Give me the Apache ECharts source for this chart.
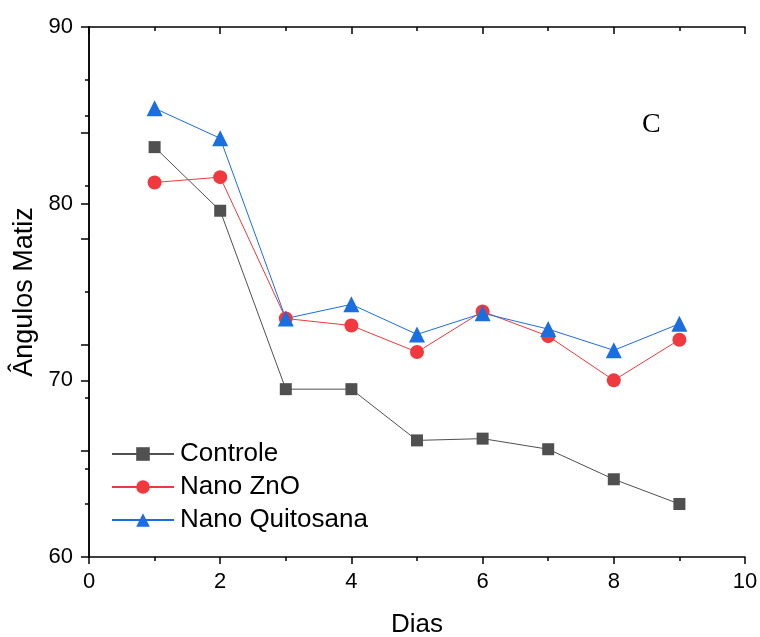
<!DOCTYPE html>
<html>
<head>
<meta charset="utf-8">
<script src="https://cdn.jsdelivr.net/npm/echarts@6/dist/echarts.min.js"></script>
<style>
  html, body { margin: 0; padding: 0; background: #fff; }
  #chart { width: 760px; height: 637px; }
</style>
</head>
<body>
<div id="chart"></div>
<script>
// Storage days
const days = [1, 2, 3, 4, 5, 6, 7, 8, 9];

// Hue angle per treatment
const controle = [83.2, 79.6, 69.5, 69.5, 66.6, 66.7, 66.1, 64.4, 63.0];
const nanoZnO = [81.2, 81.5, 73.5, 73.1, 71.6, 73.9, 72.5, 70.0, 72.3];
const nanoQuitosana = [85.4, 83.7, 73.5, 74.3, 72.6, 73.8, 72.9, 71.7, 73.2];

const seriesNames = ['Controle', 'Nano ZnO', 'Nano Quitosana'];

const pairs = vals => days.map((d, i) => [d, vals[i]]);

const chart = echarts.init(document.getElementById('chart'), null, { renderer: 'canvas' });

const sans = { fontFamily: 'Liberation Sans, Arial, sans-serif', color: '#000' };
const axisLineStyle = { color: '#000', width: 1.5 };

chart.setOption({
  animation: false,
  backgroundColor: '#fff',
  grid: { left: 89, right: 15, top: 27, bottom: 80, containLabel: false, outerBoundsMode: 'none' },
  legend: {
    left: 106, top: 436,
    orient: 'vertical',
    itemWidth: 62, itemHeight: 17, itemGap: 7,
    textStyle: Object.assign({ fontSize: 26, padding: [0, 0, 0, 1] }, sans),
    data: seriesNames
  },
  xAxis: [{
    type: 'value', min: 0, max: 10, interval: 2,
    position: 'bottom',
    name: 'Dias', nameLocation: 'middle', nameGap: 55,
    nameTextStyle: Object.assign({ fontSize: 26 }, sans),
    axisLine: { lineStyle: axisLineStyle },
    axisTick: { length: 7, lineStyle: axisLineStyle },
    minorTick: { show: true, splitNumber: 2, length: 4, lineStyle: axisLineStyle },
    axisLabel: Object.assign({ fontSize: 22, margin: 14 }, sans),
    splitLine: { show: false }
  }, {
    type: 'value', min: 0, max: 10, interval: 2,
    position: 'top',
    axisLine: { lineStyle: axisLineStyle },
    axisTick: { inside: true, length: 7, lineStyle: axisLineStyle },
    minorTick: { show: true, splitNumber: 2, length: 4, lineStyle: axisLineStyle },
    axisLabel: { show: false },
    splitLine: { show: false }
  }],
  yAxis: [{
    type: 'value', min: 60, max: 90, interval: 10,
    position: 'left',
    name: 'Ângulos Matiz', nameLocation: 'middle', nameGap: 50,
    nameTextStyle: Object.assign({ fontSize: 27 }, sans),
    axisLine: { lineStyle: axisLineStyle },
    axisTick: { length: 8, lineStyle: axisLineStyle },
    minorTick: { show: true, splitNumber: 2, length: 4, lineStyle: axisLineStyle },
    axisLabel: Object.assign({ fontSize: 22, margin: 16 }, sans),
    splitLine: { show: false }
  }, {
    type: 'value', min: 0, max: 5, interval: 1,
    position: 'right',
    axisLine: { lineStyle: axisLineStyle },
    axisTick: { inside: true, length: 8, lineStyle: axisLineStyle },
    minorTick: { show: true, splitNumber: 2, length: 4, lineStyle: axisLineStyle },
    axisLabel: { show: false },
    splitLine: { show: false }
  }],
  graphic: [{
    type: 'text', left: 642, top: 111,
    style: { text: 'C', font: '28px "Liberation Serif", "Times New Roman", serif', fill: '#000' }
  }],
  series: [{
    name: seriesNames[0], type: 'line', data: pairs(controle),
    symbol: 'rect', symbolSize: 12,
    lineStyle: { color: '#505050', width: 1 },
    itemStyle: { color: '#505050' }
  }, {
    name: seriesNames[1], type: 'line', data: pairs(nanoZnO),
    symbol: 'circle', symbolSize: 14,
    lineStyle: { color: '#f0393e', width: 1 },
    itemStyle: { color: '#f0393e' }
  }, {
    name: seriesNames[2], type: 'line', data: pairs(nanoQuitosana),
    symbol: 'triangle', symbolSize: 16,
    lineStyle: { color: '#1a6ee0', width: 1 },
    itemStyle: { color: '#1a6ee0' }
  }]
});
</script>
</body>
</html>
